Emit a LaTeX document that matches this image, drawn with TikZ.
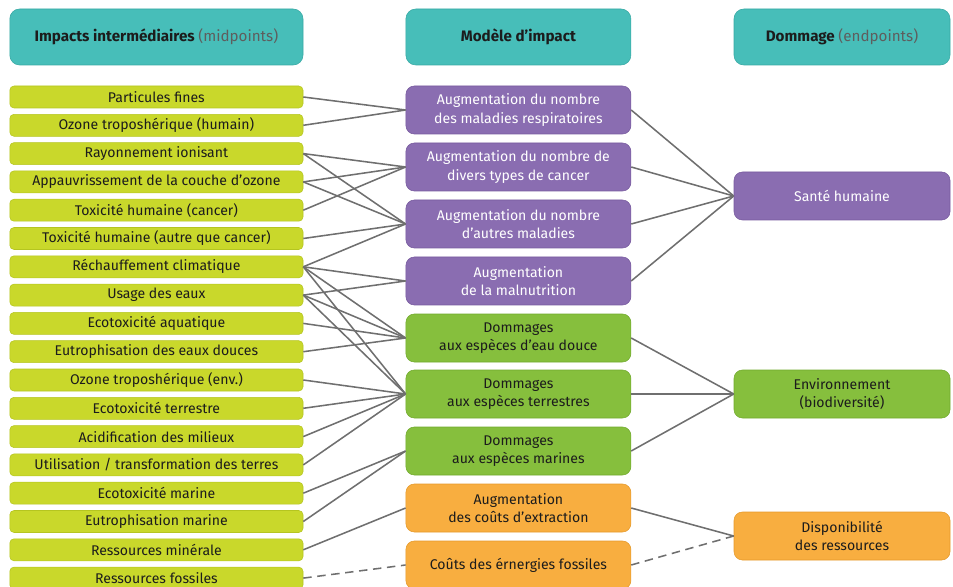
\documentclass[tikz,border=0pt]{standalone}
\usepackage{fontspec}
\setmainfont{Fira Sans}
\usetikzlibrary{positioning}
\definecolor{hdrfill}{HTML}{47BEB9}
\definecolor{hdrline}{HTML}{38A9A4}
\definecolor{midfill}{HTML}{C9D82B}
\definecolor{midline}{HTML}{B5C520}
\definecolor{humfill}{HTML}{8A6DB1}
\definecolor{humline}{HTML}{775A9E}
\definecolor{envfill}{HTML}{86BF3D}
\definecolor{envline}{HTML}{72AA2E}
\definecolor{resfill}{HTML}{F8AE40}
\definecolor{resline}{HTML}{E59A2C}
\definecolor{wire}{HTML}{6F6F6F}
\definecolor{ink}{HTML}{1C1C1C}
\definecolor{soft}{HTML}{5E5E5E}

\begin{document}
\begin{tikzpicture}[
  font=\fontsize{10}{13.2}\selectfont,
  head/.style={draw=hdrline,fill=hdrfill,rounded corners=7pt,minimum height=1.4cm,text=ink,font=\fontsize{10.8}{13}\selectfont\bfseries},
  mid/.style={draw=midline,fill=midfill,rounded corners=3pt,minimum width=7.33cm,minimum height=0.55cm,inner sep=0pt,text=ink},
  model/.style={rounded corners=6pt,minimum width=5.625cm,minimum height=1.2cm,inner sep=1pt,align=center,text=white},
  endp/.style={model,minimum width=5.4cm},
  hum/.style={draw=humline,fill=humfill},
  env/.style={draw=envline,fill=envfill,text=ink},
  res/.style={draw=resline,fill=resfill,text=ink},
  link/.style={draw=wire,line width=1.1pt},
  fossil/.style={link,dash pattern=on 6pt off 4pt}
]
\useasboundingbox (0,0) rectangle (23.825,-14.675);
% --- headers ---------------------------------------------------------------
\node[head,minimum width=7.33cm] (hp) at (3.91,-0.925) {Impacts intermédiaires \textmd{\color{soft}(midpoints)}};
\node[head,minimum width=5.625cm] (hm) at (12.96,-0.925) {Modèle d’impact};
\node[head,minimum width=5.4cm] (he) at (21.05,-0.925) {Dommage \textmd{\color{soft}(endpoints)}};
% --- midpoints ---------------------------------------------------------------
\foreach [count=\i] \t in {Particules fines,Ozone troposhérique (humain),Rayonnement ionisant,
  Appauvrissement de la couche d’ozone,Toxicité humaine (cancer),Toxicité humaine (autre que cancer),
  Réchauffement climatique,Usage des eaux,Ecotoxicité aquatique,Eutrophisation des eaux douces,
  Ozone troposhérique (env.),Ecotoxicité terrestre,Acidification des milieux,
  Utilisation / transformation des terres,Ecotoxicité marine,Eutrophisation marine,
  Ressources minérale,Ressources fossiles}
  {\node[mid] (p\i) at (3.91,{-2.425-0.7075*(\i-1)}) {\t};}
% --- impact model ------------------------------------------------------------
\node[model,hum] (m1) at (12.96,-2.75) {Augmentation du nombre\\des maladies respiratoires};
\node[model,hum] (m2) at (12.96,-4.175) {Augmentation du nombre de\\divers types de cancer};
\node[model,hum] (m3) at (12.96,-5.6) {Augmentation du nombre\\d’autres maladies};
\node[model,hum] (m4) at (12.96,-7.025) {Augmentation\\de la malnutrition};
\node[model,env] (m5) at (12.96,-8.45) {Dommages\\aux espèces d’eau douce};
\node[model,env] (m6) at (12.96,-9.85) {Dommages\\aux espèces terrestres};
\node[model,env] (m7) at (12.96,-11.275) {Dommages\\aux espèces marines};
\node[model,res] (m8) at (12.96,-12.7) {Augmentation\\des coûts d’extraction};
\node[model,res] (m9) at (12.96,-14.125) {Coûts des érnergies fossiles};
% --- endpoints ---------------------------------------------------------------
\node[endp,hum] (e1) at (21.05,-4.9) {Santé humaine};
\node[endp,env] (e2) at (21.05,-9.85) {Environnement\\(biodiversité)};
\node[endp,res] (e3) at (21.05,-13.4) {Disponibilité\\des ressources};
% --- links -------------------------------------------------------------------
\foreach \a/\b in {1/1,2/1,3/2,3/3,4/2,4/3,5/2,6/3,7/3,7/4,7/5,7/6,8/4,8/5,8/6,
  9/5,10/5,11/6,12/6,13/6,14/6,15/7,16/7,17/8}
  {\draw[link] (p\a.east) -- (m\b.west);}
\draw[fossil] (p18.east) -- (m9.west);
\foreach \a/\b in {1/1,2/1,3/1,4/1,5/2,6/2,7/2,8/3}
  {\draw[link] (m\a.east) -- (e\b.west);}
\draw[fossil] (m9.east) -- (e3.west);
\end{tikzpicture}
\end{document}
